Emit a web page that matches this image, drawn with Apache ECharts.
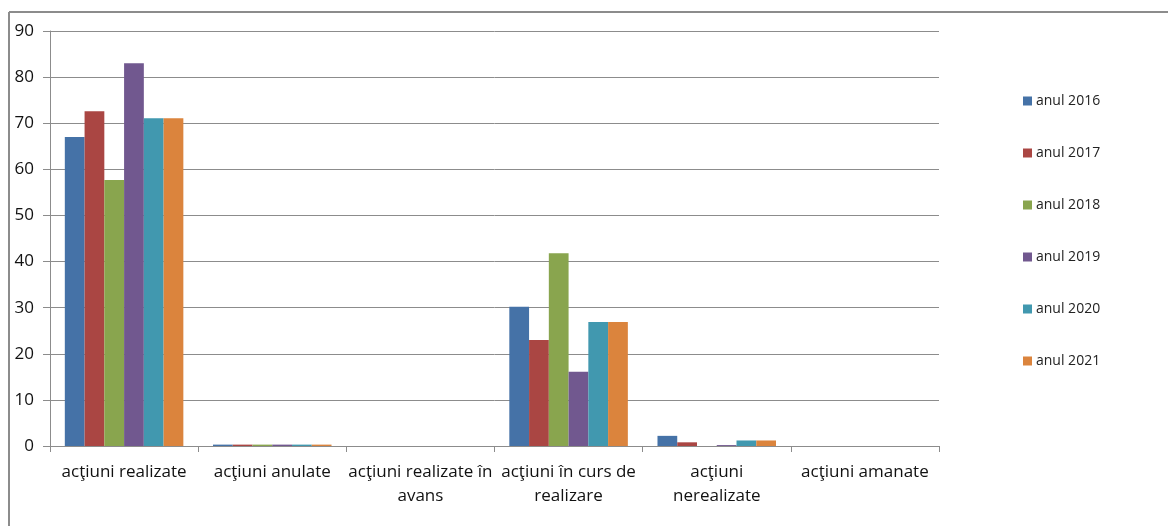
<!DOCTYPE html>
<html>
<head>
<meta charset="utf-8">
<script src="https://cdn.jsdelivr.net/npm/echarts@6/dist/echarts.min.js"></script>
<style>
  html, body { margin: 0; padding: 0; background: #fff; }
  #chart { width: 1168px; height: 526px; }
</style>
</head>
<body>
<div id="chart"></div>
<script>
const categories = ['acţiuni realizate', 'acţiuni anulate', 'acţiuni realizate în\navans', 'acţiuni în curs de\nrealizare', 'acţiuni\nnerealizate', 'acţiuni amanate']
const years = ['anul 2016', 'anul 2017', 'anul 2018', 'anul 2019', 'anul 2020', 'anul 2021']
const colors = ['#4572A7', '#AA4643', '#89A54E', '#71588F', '#4198AF', '#DB843D']

const values2016 = [67.0, 0.3, 0, 30.2, 2.2, 0]
const values2017 = [72.6, 0.3, 0, 23.0, 0.8, 0]
const values2018 = [57.7, 0.3, 0, 41.8, 0, 0]
const values2019 = [83.0, 0.3, 0, 16.1, 0.2, 0]
const values2020 = [71.1, 0.3, 0, 26.9, 1.2, 0]
const values2021 = [71.1, 0.3, 0, 26.9, 1.2, 0]
const allValues = [values2016, values2017, values2018, values2019, values2020, values2021]

const chart = echarts.init(document.getElementById('chart'))
const font = 'Open Sans, Noto Sans, sans-serif'

chart.setOption({
  animation: false,
  textStyle: { fontFamily: font },
  graphic: [
    { type: 'line', shape: { x1: 9, y1: 12, x2: 1168, y2: 12 }, style: { stroke: '#8c8c8c', lineWidth: 2 } },
    { type: 'line', shape: { x1: 9, y1: 12, x2: 9, y2: 526 }, style: { stroke: '#8c8c8c', lineWidth: 2 } }
  ],
  grid: { left: 50, top: 31, width: 889, height: 415 },
  legend: {
    orient: 'vertical',
    left: 1018,
    top: 89,
    itemWidth: 9,
    itemHeight: 9,
    itemGap: 38,
    textStyle: { fontSize: 14, color: '#222', fontFamily: font, padding: [0, 0, 0, -1] },
    data: years.map(y => ({ name: y, icon: 'rect' }))
  },
  xAxis: {
    type: 'category',
    data: categories,
    axisLine: { lineStyle: { color: '#8c8c8c' } },
    axisTick: { show: true, length: 6, lineStyle: { color: '#8c8c8c' } },
    axisLabel: { fontSize: 17, color: '#111', lineHeight: 24, margin: 14, interval: 0 }
  },
  yAxis: {
    type: 'value',
    min: 0,
    max: 90,
    interval: 10,
    axisLine: { show: true, lineStyle: { color: '#8c8c8c' } },
    axisTick: { show: true, length: 7, lineStyle: { color: '#8c8c8c' } },
    axisLabel: { fontSize: 17, color: '#111', margin: 16 },
    splitLine: { lineStyle: { color: '#8c8c8c' } }
  },
  series: years.map((name, i) => ({
    name: name,
    type: 'bar',
    data: allValues[i],
    barGap: '0%',
    barCategoryGap: '20%',
    itemStyle: { color: colors[i] }
  }))
})
</script>
</body>
</html>
